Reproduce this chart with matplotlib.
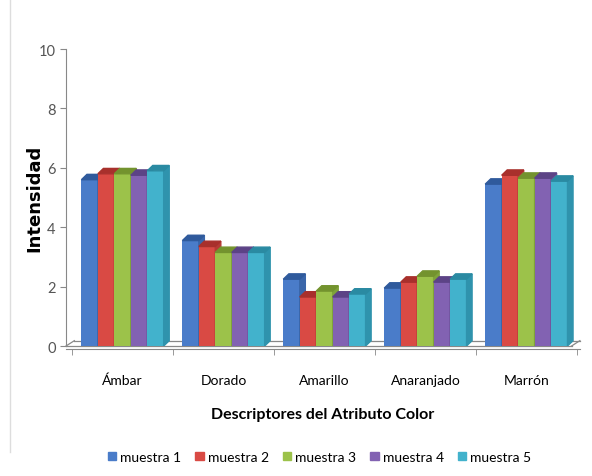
import matplotlib.pyplot as plt
from matplotlib.patches import Polygon
from matplotlib.lines import Line2D
import numpy as np

categories = ["Ámbar", "Dorado", "Amarillo", "Anaranjado", "Marrón"]
series = ["muestra 1", "muestra 2", "muestra 3", "muestra 4", "muestra 5"]
muestra_1 = [5.6, 3.55, 2.25, 1.95, 5.45]
muestra_2 = [5.8, 3.35, 1.65, 2.15, 5.75]
muestra_3 = [5.8, 3.15, 1.85, 2.35, 5.65]
muestra_4 = [5.75, 3.15, 1.65, 2.15, 5.65]
muestra_5 = [5.9, 3.15, 1.75, 2.25, 5.55]
values = [muestra_1, muestra_2, muestra_3, muestra_4, muestra_5]

colors = ["#4a7cc9", "#d94a44", "#9cc24a", "#8262b2", "#42b2cc"]
top_colors = ["#2f5a9c", "#a8302c", "#73932e", "#5c4386", "#2a8aa2"]
side_colors = ["#3a66aa", "#b53a35", "#7fa23a", "#6a4f96", "#2f93ad"]

plt.rcParams["font.family"] = ["Lato", "DejaVu Sans"]

fig = plt.figure(figsize=(5.92, 4.77), dpi=100)
ax = fig.add_axes([0.1115, 0.2725, 0.868, 0.6226])

width = 0.163
dx, dy = 0.055, 0.18
x = np.arange(len(categories))

# floor
xmin, xmax = -0.56, 4.53
ax.plot([xmin, xmax - dx * 1.5], [0, 0], color="#888888", lw=0.9, clip_on=False)
ax.plot([xmin + dx * 1.5, xmax], [dy, dy], color="#888888", lw=0.9, clip_on=False)
ax.plot([xmin, xmin + dx * 1.5], [0, dy], color="#888888", lw=0.9, clip_on=False)
ax.plot([xmax - dx * 1.5, xmax], [0, dy], color="#888888", lw=0.9, clip_on=False)

for i, vals in enumerate(values):
    pos = x + (i - 2) * width
    ax.bar(pos, vals, width, color=colors[i], label=series[i], zorder=3)
    for p, v in zip(pos, vals):
        l, r = p - width / 2, p + width / 2
        ax.add_patch(Polygon([[r, 0], [r + dx, dy], [r + dx, v + dy], [r, v]],
                             closed=True, color=side_colors[i], zorder=3))
        ax.add_patch(Polygon([[l, v], [l + dx, v + dy], [r + dx, v + dy], [r, v]],
                             closed=True, color=top_colors[i], zorder=3))

ax.set_xlim(xmin, xmax)
ax.set_ylim(0, 10)
ax.set_yticks(range(0, 11, 2))
ax.set_xticks(x)
ax.set_xticklabels(categories, fontsize=10.5, color="#333333")
ax.set_xticks(np.arange(-0.5, 5, 1), minor=True)
ax.tick_params(axis="x", which="major", length=0, pad=18)
ax.tick_params(axis="x", which="minor", length=4, color="#888888")
ax.tick_params(axis="y", length=4, color="#888888", labelsize=10.5, labelcolor="#555555")

for s in ["top", "right"]:
    ax.spines[s].set_visible(False)
ax.spines["left"].set_color("#888888")
ax.spines["bottom"].set_color("#888888")
ax.spines["bottom"].set_position(("data", -0.1))

ax.set_ylabel("Intensidad", fontsize=13, fontweight="bold", family=["DejaVu Sans"])
ax.yaxis.set_label_coords(-0.045, 0.5)
ax.set_xlabel("Descriptores del Atributo Color", fontsize=11.5, fontweight="bold", labelpad=15)

handles = [plt.Rectangle((0, 0), 1, 1, color=c) for c in colors]
fig.legend(handles, series, loc="center", bbox_to_anchor=(0.54, 0.04), ncol=5,
           frameon=False, fontsize=10, handlelength=0.6, handleheight=0.6,
           handletextpad=0.3, columnspacing=1.0)

fig.add_artist(Line2D([10 / 592, 10 / 592], [0.05, 1.0], color="#dddddd", lw=1))

fig.savefig("out.png", dpi=100)
